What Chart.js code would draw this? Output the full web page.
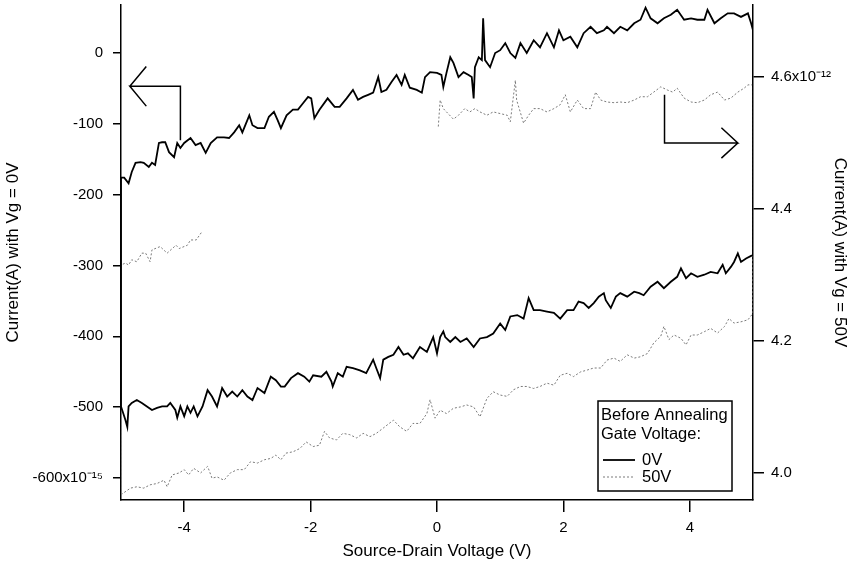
<!DOCTYPE html>
<html>
<head>
<meta charset="utf-8">
<script src="https://cdn.jsdelivr.net/npm/chart.js@4.4.0/dist/chart.umd.min.js"></script>
<style>
  html, body { margin: 0; padding: 0; background: #fff; }
  #wrap { width: 850px; height: 570px; }
</style>
</head>
<body>
<div id="wrap"><canvas id="ivChart" width="850" height="570"></canvas></div>
<script>
// I-V hysteresis loops, before annealing
// x = source-drain voltage (V); 0V curve in 1e-15 A (left axis), 50V curve in 1e-12 A (right axis)
const xTicks = [-4, -2, 0, 2, 4];
const leftTicks = [-600, -500, -400, -300, -200, -100, 0];
const rightTicks = [4.0, 4.2, 4.4, 4.6];

// Vg = 0V, forward sweep (-5 -> 5)
const gate0Lower = [[-5.00,-499],[-4.93,-518],[-4.90,-528],[-4.88,-499],[-4.83,-494],[-4.75,-490],[-4.67,-494],[-4.59,-499],[-4.51,-504],[-4.43,-501],[-4.35,-499],[-4.27,-499],[-4.22,-494],[-4.14,-504],[-4.11,-515],[-4.06,-499],[-4.00,-513],[-3.95,-499],[-3.90,-508],[-3.85,-499],[-3.79,-513],[-3.71,-499],[-3.63,-476],[-3.56,-485],[-3.48,-499],[-3.40,-473],[-3.32,-485],[-3.24,-478],[-3.16,-485],[-3.08,-476],[-3.00,-485],[-2.92,-490],[-2.84,-473],[-2.73,-480],[-2.63,-457],[-2.55,-462],[-2.47,-471],[-2.41,-471],[-2.31,-459],[-2.20,-452],[-2.10,-457],[-2.02,-464],[-1.96,-455],[-1.83,-457],[-1.75,-450],[-1.67,-464],[-1.65,-471],[-1.57,-452],[-1.49,-457],[-1.43,-443],[-1.33,-445],[-1.22,-448],[-1.12,-452],[-1.01,-433],[-0.96,-445],[-0.90,-459],[-0.85,-433],[-0.77,-429],[-0.69,-426],[-0.61,-415],[-0.53,-426],[-0.46,-424],[-0.38,-431],[-0.27,-415],[-0.16,-422],[-0.06,-401],[0.00,-424],[0.05,-401],[0.10,-393],[0.13,-401],[0.21,-408],[0.29,-401],[0.37,-408],[0.47,-403],[0.58,-415],[0.68,-403],[0.79,-401],[0.89,-396],[1.00,-382],[1.08,-391],[1.16,-372],[1.27,-370],[1.37,-375],[1.45,-346],[1.53,-363],[1.63,-363],[1.74,-365],[1.85,-367],[1.95,-375],[2.06,-363],[2.16,-363],[2.24,-351],[2.32,-353],[2.40,-360],[2.48,-353],[2.56,-344],[2.64,-339],[2.67,-349],[2.75,-360],[2.83,-344],[2.90,-339],[3.01,-344],[3.12,-337],[3.20,-339],[3.27,-342],[3.38,-330],[3.49,-323],[3.59,-332],[3.70,-323],[3.80,-316],[3.86,-304],[3.94,-318],[4.02,-311],[4.12,-316],[4.23,-313],[4.33,-309],[4.44,-311],[4.52,-299],[4.57,-311],[4.65,-302],[4.70,-295],[4.76,-283],[4.81,-295],[4.89,-290],[5.00,-285]];
// Vg = 0V, return sweep (listed by increasing x)
const gate0Upper = [[-5.00,-176],[-4.95,-176],[-4.88,-184],[-4.83,-168],[-4.77,-155],[-4.69,-154],[-4.64,-155],[-4.56,-161],[-4.51,-155],[-4.46,-158],[-4.40,-127],[-4.35,-126],[-4.30,-126],[-4.24,-140],[-4.16,-147],[-4.11,-127],[-4.06,-134],[-4.00,-127],[-3.90,-120],[-3.82,-130],[-3.74,-127],[-3.66,-141],[-3.58,-127],[-3.48,-119],[-3.37,-119],[-3.29,-120],[-3.21,-112],[-3.13,-102],[-3.08,-112],[-2.97,-88],[-2.92,-102],[-2.84,-106],[-2.73,-106],[-2.66,-90],[-2.58,-83],[-2.52,-95],[-2.47,-106],[-2.38,-88],[-2.28,-80],[-2.20,-80],[-2.12,-71],[-2.04,-62],[-1.99,-64],[-1.94,-92],[-1.86,-80],[-1.73,-64],[-1.62,-76],[-1.54,-76],[-1.43,-64],[-1.33,-52],[-1.25,-66],[-1.17,-62],[-1.09,-59],[-1.01,-56],[-0.93,-34],[-0.88,-55],[-0.80,-52],[-0.72,-41],[-0.64,-31],[-0.56,-45],[-0.51,-31],[-0.43,-49],[-0.32,-52],[-0.24,-56],[-0.19,-34],[-0.11,-27],[0.00,-28],[0.07,-31],[0.10,-48],[0.15,-28],[0.21,-6],[0.26,-14],[0.34,-34],[0.42,-27],[0.50,-31],[0.55,-34],[0.58,-64],[0.60,-20],[0.66,-6],[0.71,-10],[0.73,49],[0.76,-10],[0.84,-20],[0.92,0],[1.00,4],[1.08,14],[1.16,0],[1.24,-7],[1.32,14],[1.42,0],[1.53,18],[1.63,8],[1.74,28],[1.85,8],[1.93,32],[2.00,18],[2.11,23],[2.22,8],[2.32,28],[2.43,37],[2.53,28],[2.64,32],[2.69,37],[2.80,28],[2.90,37],[3.01,32],[3.12,42],[3.22,47],[3.30,64],[3.38,49],[3.49,42],[3.59,49],[3.70,54],[3.80,61],[3.91,47],[4.02,49],[4.12,47],[4.23,47],[4.28,61],[4.39,42],[4.49,49],[4.60,56],[4.70,56],[4.81,51],[4.92,56],[4.97,42],[5.00,32]];

// Vg = 50V, forward sweep
const gate50Lower = [[-5.00,3.967],[-4.85,3.977],[-4.75,3.979],[-4.64,3.977],[-4.54,3.982],[-4.43,3.984],[-4.32,3.989],[-4.27,3.979],[-4.19,3.997],[-4.08,4.000],[-4.00,4.005],[-3.93,3.997],[-3.85,4.007],[-3.74,4.000],[-3.63,4.010],[-3.56,3.992],[-3.48,3.994],[-3.37,3.989],[-3.27,4.000],[-3.16,4.005],[-3.05,4.005],[-2.95,4.017],[-2.84,4.015],[-2.73,4.020],[-2.63,4.022],[-2.55,4.027],[-2.47,4.020],[-2.39,4.030],[-2.28,4.032],[-2.17,4.037],[-2.07,4.047],[-1.96,4.040],[-1.86,4.042],[-1.78,4.063],[-1.70,4.053],[-1.59,4.050],[-1.49,4.060],[-1.38,4.058],[-1.27,4.053],[-1.17,4.060],[-1.06,4.055],[-0.96,4.060],[-0.85,4.068],[-0.69,4.080],[-0.59,4.070],[-0.48,4.063],[-0.38,4.075],[-0.27,4.075],[-0.16,4.090],[-0.11,4.111],[-0.03,4.083],[0.05,4.095],[0.15,4.090],[0.26,4.098],[0.37,4.100],[0.47,4.103],[0.58,4.100],[0.68,4.085],[0.79,4.113],[0.89,4.123],[1.00,4.118],[1.11,4.116],[1.21,4.126],[1.32,4.131],[1.42,4.131],[1.53,4.128],[1.63,4.131],[1.74,4.136],[1.85,4.133],[1.95,4.148],[2.06,4.151],[2.16,4.146],[2.27,4.153],[2.38,4.156],[2.48,4.159],[2.59,4.159],[2.69,4.171],[2.80,4.174],[2.90,4.169],[3.01,4.179],[3.12,4.174],[3.22,4.176],[3.33,4.181],[3.43,4.197],[3.54,4.207],[3.59,4.222],[3.67,4.202],[3.75,4.209],[3.86,4.204],[3.94,4.194],[4.02,4.209],[4.12,4.209],[4.23,4.214],[4.33,4.219],[4.44,4.212],[4.55,4.222],[4.62,4.234],[4.70,4.227],[4.81,4.229],[4.92,4.232],[5.00,4.242]];
// Vg = 50V, return sweep - only two pieces were recorded
const gate50UpperRight = [[0.02,4.524],[0.05,4.565],[0.10,4.552],[0.15,4.547],[0.26,4.536],[0.34,4.542],[0.44,4.552],[0.52,4.547],[0.60,4.552],[0.68,4.547],[0.79,4.542],[0.89,4.547],[1.11,4.542],[1.16,4.532],[1.24,4.595],[1.26,4.565],[1.37,4.530],[1.45,4.542],[1.53,4.552],[1.63,4.552],[1.74,4.547],[1.85,4.552],[1.95,4.558],[2.03,4.573],[2.11,4.547],[2.22,4.565],[2.32,4.552],[2.43,4.552],[2.51,4.577],[2.59,4.565],[2.69,4.562],[2.80,4.561],[2.90,4.562],[3.01,4.561],[3.12,4.565],[3.22,4.570],[3.33,4.570],[3.43,4.577],[3.54,4.585],[3.65,4.580],[3.73,4.577],[3.80,4.583],[3.91,4.568],[4.02,4.562],[4.12,4.561],[4.23,4.565],[4.33,4.573],[4.44,4.577],[4.55,4.565],[4.65,4.568],[4.76,4.577],[4.86,4.583],[4.92,4.588],[5.00,4.588]];
const gate50UpperLeft = [[-5.00,4.315],[-4.93,4.318],[-4.88,4.315],[-4.83,4.323],[-4.75,4.320],[-4.67,4.333],[-4.61,4.333],[-4.54,4.320],[-4.51,4.338],[-4.38,4.343],[-4.27,4.333],[-4.13,4.345],[-4.08,4.340],[-3.95,4.345],[-3.90,4.353],[-3.81,4.353],[-3.73,4.364]];

// axis-pointer arrows (in data units of their own axis)
const arrowLeft = [[-4.60,-19],[-4.86,-47],[-4.60,-75],[-4.86,-47],[-4.06,-47],[-4.06,-123]];
const arrowRight = [[3.60,4.573],[3.60,4.500],[4.76,4.500],[4.50,4.523],[4.76,4.500],[4.50,4.477]];

const FONT = "'Liberation Sans', Arial, Helvetica, sans-serif";

function pts(list) {
  return list.map(p => ({ x: p[0], y: p[1] }));
}

// full loops in sweep order: forward branch, then back along the return branch
const loop0 = pts(gate0Lower)
  .concat(pts(gate0Upper).reverse())
  .concat(pts(gate0Lower.slice(0, 1)));

const loop50 = pts(gate50Lower)
  .concat(pts(gate50UpperRight).reverse())
  .concat([{ x: -1.9, y: null }])
  .concat(pts(gate50UpperLeft).reverse())
  .concat(pts(gate50Lower.slice(0, 1)));

// boxed legend in the lower right corner
const annealLegend = {
  id: 'annealLegend',
  afterDraw(chart) {
    const { ctx, chartArea } = chart;
    const w = 134, h = 90;
    const x = chartArea.right - 155;
    const y = chartArea.bottom - 99;
    const ds = chart.data.datasets;

    ctx.save();
    ctx.fillStyle = '#fff';
    ctx.fillRect(x, y, w, h);
    ctx.strokeStyle = '#000';
    ctx.lineWidth = 1.5;
    ctx.strokeRect(x, y, w, h);

    ctx.fillStyle = '#000';
    ctx.font = '16.5px ' + FONT;
    ctx.textBaseline = 'middle';
    ctx.textAlign = 'left';
    ctx.fillText('Before Annealing', x + 3, y + 14);
    ctx.fillText('Gate Voltage:', x + 3, y + 33);

    const rows = [[ds[0], '0V', y + 59], [ds[1], '50V', y + 76]];
    rows.forEach(([d, label, ry]) => {
      ctx.save();
      ctx.strokeStyle = d.borderColor;
      ctx.lineWidth = d.borderWidth;
      ctx.setLineDash(d.borderDash || []);
      ctx.beginPath();
      ctx.moveTo(x + 5, ry);
      ctx.lineTo(x + 37, ry);
      ctx.stroke();
      ctx.restore();
      ctx.fillText(label, x + 44, ry);
    });
    ctx.restore();
  }
};

function axisGrid(len) {
  return {
    display: true,
    drawOnChartArea: false,
    drawTicks: true,
    tickLength: len,
    color: '#000',
    lineWidth: 1.5
  };
}

function setTicks(values) {
  return scale => { scale.ticks = values.map(v => ({ value: v })); };
}

function fixSize(prop, size) {
  return scale => {
    scale[prop] = size;
    scale.paddingTop = 0; scale.paddingBottom = 0;
    scale.paddingLeft = 0; scale.paddingRight = 0;
  };
}

new Chart(document.getElementById('ivChart'), {
  type: 'scatter',
  data: {
    datasets: [
      {
        label: '0V',
        data: loop0,
        yAxisID: 'y',
        showLine: true,
        borderColor: '#000',
        borderWidth: 1.8,
        pointRadius: 0,
        tension: 0
      },
      {
        label: '50V',
        data: loop50,
        yAxisID: 'y2',
        showLine: true,
        spanGaps: false,
        borderColor: '#7a7a7a',
        borderWidth: 1,
        borderDash: [2, 2],
        pointRadius: 0,
        tension: 0
      },
      {
        label: 'arrow0',
        data: pts(arrowLeft),
        yAxisID: 'y',
        showLine: true,
        borderColor: '#000',
        borderWidth: 1.5,
        pointRadius: 0
      },
      {
        label: 'arrow50',
        data: pts(arrowRight),
        yAxisID: 'y2',
        showLine: true,
        borderColor: '#000',
        borderWidth: 1.5,
        pointRadius: 0
      }
    ]
  },
  options: {
    responsive: false,
    animation: false,
    devicePixelRatio: 1,
    layout: { padding: { top: 5, left: 0, right: 0, bottom: 0 } },
    plugins: {
      legend: { display: false },
      tooltip: { enabled: false }
    },
    scales: {
      x: {
        type: 'linear',
        position: 'bottom',
        min: -5,
        max: 5,
        afterBuildTicks: setTicks(xTicks),
        afterFit: fixSize('height', 70),
        grid: axisGrid(12),
        border: { display: true, color: '#000', width: 1.5 },
        ticks: { color: '#000', padding: 7, maxRotation: 0, font: { family: FONT, size: 15 } },
        title: {
          display: true,
          text: 'Source-Drain Voltage (V)',
          color: '#000',
          font: { family: FONT, size: 17 },
          padding: { top: 0, bottom: 8 }
        }
      },
      y: {
        type: 'linear',
        position: 'left',
        min: -631.1,
        max: 67.8,
        afterBuildTicks: setTicks(leftTicks),
        afterFit: fixSize('width', 121),
        grid: axisGrid(8),
        border: { display: true, color: '#000', width: 1.5 },
        ticks: {
          color: '#000',
          padding: 10,
          font: { family: FONT, size: 15 },
          callback: v => (v === -600 ? '-600x10\u207B\u00B9\u2075' : String(v))
        },
        title: {
          display: true,
          text: 'Current(A) with Vg = 0V',
          color: '#000',
          font: { family: FONT, size: 17 },
          padding: { top: 3, bottom: 0 }
        }
      },
      y2: {
        type: 'linear',
        position: 'right',
        min: 3.959,
        max: 4.709,
        afterBuildTicks: setTicks(rightTicks),
        afterFit: fixSize('width', 97),
        grid: axisGrid(11),
        border: { display: true, color: '#000', width: 1.5 },
        ticks: {
          color: '#000',
          padding: 7,
          font: { family: FONT, size: 15 },
          callback: v => (Math.abs(v - 4.6) < 1e-6 ? '4.6x10\u207B\u00B9\u00B2' : v.toFixed(1))
        },
        title: {
          display: true,
          text: 'Current(A) with Vg = 50V',
          color: '#000',
          font: { family: FONT, size: 17 },
          padding: { top: 0, bottom: 0 }
        }
      }
    }
  },
  plugins: [annealLegend]
});
</script>
</body>
</html>
